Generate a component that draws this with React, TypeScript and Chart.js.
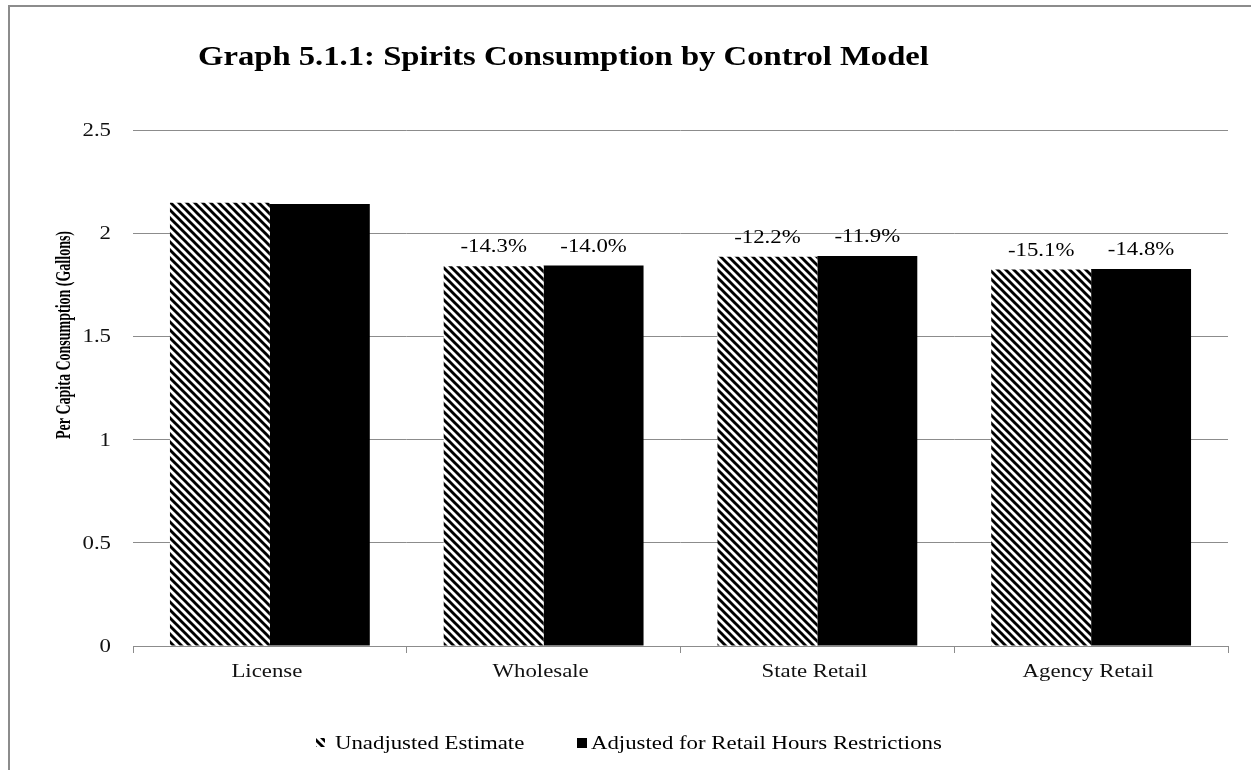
import React, { useEffect, useRef } from "react";
import { Chart, registerables } from "chart.js";

Chart.register(...registerables);

const categories = ["License", "Wholesale", "State Retail", "Agency Retail"];
const unadjusted = [2.148, 1.84, 1.886, 1.824];
const adjusted = [2.142, 1.843, 1.89, 1.826];
const unadjustedLabels = ["", "-14.3%", "-12.2%", "-15.1%"];
const adjustedLabels = ["", "-14.0%", "-11.9%", "-14.8%"];
const seriesNames = ["Unadjusted Estimate", "Adjusted for Retail Hours Restrictions"];
const titleText = "Graph 5.1.1: Spirits Consumption by Control Model";
const yTitleText = "Per Capita Consumption (Gallons)";
const yMin = 0;
const yMax = 2.5;
const yStep = 0.5;

const SERIF = "'Liberation Serif', 'Times New Roman', serif";
const SX = 1.2;

function makeHatch(): CanvasPattern | string {
  const s = 8;
  const c = document.createElement("canvas");
  c.width = s;
  c.height = s;
  const g = c.getContext("2d");
  if (!g) return "#000";
  g.fillStyle = "#fff";
  g.fillRect(0, 0, s, s);
  g.strokeStyle = "#000";
  g.lineWidth = 2.9;
  for (let k = -1; k <= 1; k++) {
    g.beginPath();
    g.moveTo(k * s - 2, -2);
    g.lineTo(k * s + s + 2, s + 2);
    g.stroke();
  }
  const p = g.createPattern(c, "repeat");
  return p || "#000";
}

function stretchText(ctx: CanvasRenderingContext2D, text: string, x: number, y: number, align: CanvasTextAlign, sx: number) {
  ctx.save();
  ctx.translate(x, y);
  ctx.scale(sx, 1);
  ctx.textAlign = align;
  ctx.fillText(text, 0, 0);
  ctx.restore();
}

export default function App() {
  const ref = useRef<HTMLCanvasElement | null>(null);

  useEffect(() => {
    const canvas = ref.current;
    if (!canvas) return;
    const hatch = makeHatch();
    const labelSets = [unadjustedLabels, adjustedLabels];

    const decorPlugin = {
      id: "decor",
      afterDatasetsDraw(chart: any) {
        const ctx = chart.ctx;
        ctx.save();
        ctx.fillStyle = "#000";
        ctx.font = `19px ${SERIF}`;
        ctx.textBaseline = "alphabetic";
        chart.data.datasets.forEach((ds: any, di: number) => {
          const meta = chart.getDatasetMeta(di);
          meta.data.forEach((el: any, i: number) => {
            const t = labelSets[di][i];
            if (t) stretchText(ctx, t, el.x, el.y - 14, "center", SX);
          });
        });
        ctx.restore();
      },
      afterDraw(chart: any) {
        const ctx = chart.ctx;
        ctx.save();
        // frame
        ctx.strokeStyle = "#8c8c8c";
        ctx.lineWidth = 2;
        ctx.beginPath();
        ctx.moveTo(9, 770);
        ctx.lineTo(9, 6);
        ctx.lineTo(1251, 6);
        ctx.stroke();
        // title
        ctx.fillStyle = "#000";
        ctx.font = `bold 27px ${SERIF}`;
        ctx.textBaseline = "alphabetic";
        stretchText(ctx, titleText, 198, 65, "left", 1.21);
        // y tick labels
        const ys = chart.scales.y;
        ctx.font = `19px ${SERIF}`;
        ctx.textBaseline = "middle";
        ctx.fillStyle = "#111";
        ys.ticks.forEach((t: any) => {
          const py = ys.getPixelForValue(t.value);
          stretchText(ctx, String(t.value), 111, py + 1, "right", SX);
        });
        // x tick labels
        const xs = chart.scales.x;
        ctx.textBaseline = "alphabetic";
        categories.forEach((c, i) => {
          const px = xs.getPixelForTick(i);
          stretchText(ctx, c, px - 3, 677, "center", SX);
        });
        // y title
        ctx.fillStyle = "#000";
        ctx.save();
        ctx.translate(65, 335);
        ctx.rotate(-Math.PI / 2);
        ctx.scale(1, 1.5);
        ctx.font = `bold 14px ${SERIF}`;
        ctx.textAlign = "center";
        ctx.textBaseline = "middle";
        ctx.fillText(yTitleText, 0, 0);
        ctx.restore();
        // legend
        ctx.font = `19px ${SERIF}`;
        ctx.textBaseline = "middle";
        const ly = 743;
        ctx.fillStyle = hatch as any;
        ctx.fillRect(316, ly - 5, 9, 9);
        ctx.fillStyle = "#000";
        stretchText(ctx, seriesNames[0], 335, ly + 1, "left", SX);
        ctx.fillRect(577, ly - 5, 10, 10);
        stretchText(ctx, seriesNames[1], 591, ly + 1, "left", SX);
        ctx.restore();
      },
    };

    const chart = new Chart(canvas, {
      type: "bar",
      data: {
        labels: categories,
        datasets: [
          {
            label: seriesNames[0],
            data: unadjusted,
            backgroundColor: hatch as any,
            borderWidth: 0,
            categoryPercentage: 0.73,
            barPercentage: 1,
          },
          {
            label: seriesNames[1],
            data: adjusted,
            backgroundColor: "#000",
            borderWidth: 0,
            categoryPercentage: 0.73,
            barPercentage: 1,
          },
        ],
      },
      options: {
        animation: false,
        responsive: false,
        maintainAspectRatio: false,
        layout: { padding: { left: 0, right: 23, top: 130, bottom: 64 } },
        plugins: {
          legend: { display: false },
          title: { display: false },
          tooltip: { enabled: false },
        },
        scales: {
          x: {
            offset: true,
            grid: {
              display: true,
              offset: true,
              drawOnChartArea: false,
              drawTicks: true,
              tickLength: 7,
              color: "#8c8c8c",
            },
            border: { display: true, color: "#8c8c8c", width: 1 },
            ticks: { display: false },
            afterFit(scale: any) {
              scale.height = 60;
            },
          },
          y: {
            min: yMin,
            max: yMax,
            ticks: { stepSize: yStep, display: false },
            grid: {
              color: "#8c8c8c",
              drawTicks: false,
              lineWidth: 1,
            },
            border: { display: false },
            afterFit(scale: any) {
              scale.width = 133;
            },
          },
        },
      },
      plugins: [decorPlugin],
    });

    return () => chart.destroy();
  }, []);

  return (
    <div style={{ position: "absolute", left: 0, top: 0, width: 1251, height: 770, background: "#fff" }}>
      <canvas ref={ref} width={1251} height={770} style={{ display: "block", width: 1251, height: 770 }} />
    </div>
  );
}
